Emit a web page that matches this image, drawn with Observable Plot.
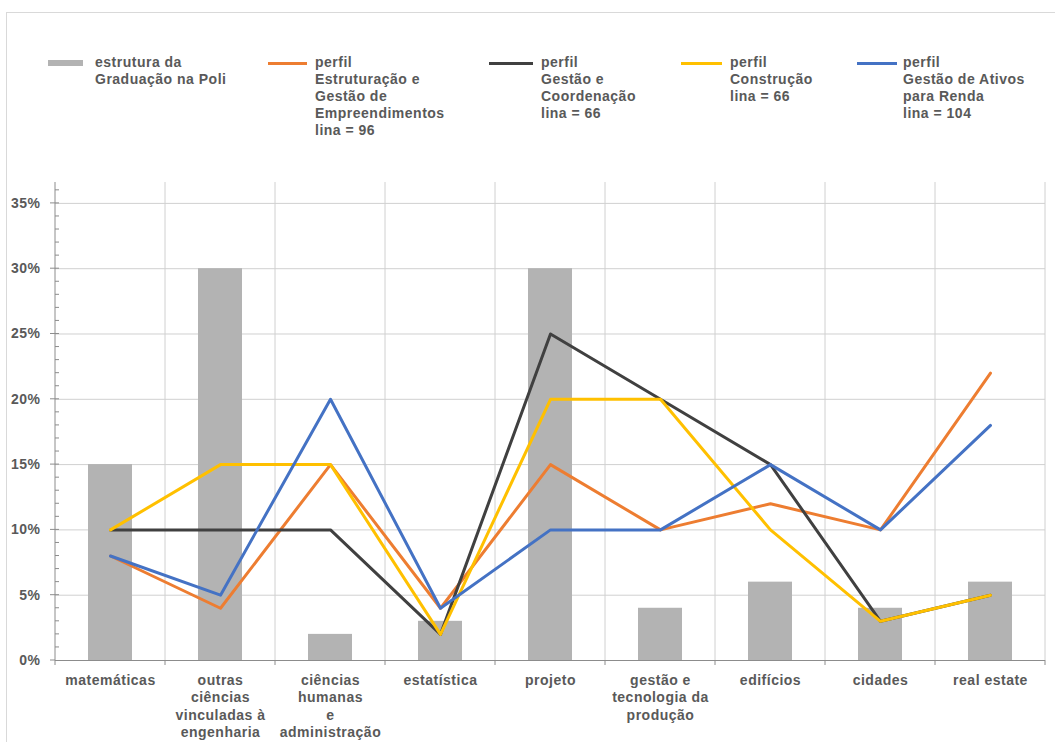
<!DOCTYPE html>
<html><head><meta charset="utf-8">
<script src="https://cdn.jsdelivr.net/npm/d3@7"></script>
<script src="https://cdn.jsdelivr.net/npm/@observablehq/plot@0.6"></script>
<style>
body{margin:0;background:#fff;}
#wrap{position:relative;width:1055px;height:742px;overflow:hidden;font-family:"Liberation Sans",Arial,sans-serif;background:#fff;}
#frame{position:absolute;left:6px;top:12px;width:1200px;height:900px;border:1px solid #d9d9d9;}
.leg{position:absolute;top:54px;font-size:14px;font-weight:bold;letter-spacing:0.5px;color:#595959;line-height:17px;white-space:pre;}
.sw{position:absolute;height:3px;}
#chart{position:absolute;left:0;top:180px;}
</style></head><body>
<div id="wrap"><div id="frame"></div><div id="legend"></div><div id="chart"></div></div>
<script>
// ---- data ----
const categories = ["matemáticas","outras ciências","ciências humanas","estatística","projeto","gestão e tecnologia","edifícios","cidades","real estate"];
const xLabels = ["matemáticas","outras\nciências\nvinculadas à\nengenharia","ciências\nhumanas\ne\nadministração","estatística","projeto","gestão e\ntecnologia da\nprodução","edifícios","cidades","real estate"];
const estruturaGraduacao = [15, 30, 2, 3, 30, 4, 6, 4, 6];
const perfilEstruturacao = [8, 4, 15, 4, 15, 10, 12, 10, 22];
const perfilGestaoCoordenacao = [10, 10, 10, 2, 25, 20, 15, 3, 5];
const perfilConstrucao = [10, 15, 15, 2, 20, 20, 10, 3, 5];
const perfilAtivos = [8, 5, 20, 4, 10, 10, 15, 10, 18];
const yTicks = [0, 5, 10, 15, 20, 25, 30, 35];
const yMax = 36.6;
const legendLabels = [
  "estrutura da\nGraduação na Poli",
  "perfil\nEstruturação e\nGestão de\nEmpreendimentos\nlina = 96",
  "perfil\nGestão e\nCoordenação\nlina = 66",
  "perfil\nConstrução\nlina = 66",
  "perfil\nGestão de Ativos\npara Renda\nlina = 104"
];

// ---- legend (HTML) ----
const legendStyle = [
  {sw: 48, w: 35, h: 6, color: "#b3b3b3", tx: 95},
  {sw: 268, w: 39, h: 3, color: "#ED7D31", tx: 315},
  {sw: 489, w: 44, h: 3, color: "#404040", tx: 541},
  {sw: 681, w: 41, h: 3, color: "#FFC000", tx: 730},
  {sw: 857, w: 40, h: 3, color: "#4472C4", tx: 903}
];
const legend = d3.select("#legend");
legendLabels.forEach((t, i) => {
  const s = legendStyle[i];
  legend.append("div").attr("class", "sw")
    .style("left", s.sw + "px").style("top", (63 - s.h / 2) + "px")
    .style("width", s.w + "px").style("height", s.h + "px").style("background", s.color);
  legend.append("div").attr("class", "leg").style("left", s.tx + "px").text(t);
});

// ---- decorations drawn with the plot's scales ----
function decorations(index, scales, values, dimensions) {
  const x = scales.x, y = scales.y;
  const c0 = x(categories[0]), c1 = x(categories[1]);
  const step = c1 - c0;
  const left = Math.abs(c0 - dimensions.marginLeft) < 1 ? c0 : c0 - step / 2;
  const bounds = d3.range(categories.length + 1).map(i => left + i * step);
  const y0 = y(0), yT = y(yMax);
  const g = d3.create("svg:g");
  // vertical gridlines
  g.selectAll(".vg").data(bounds.slice(1)).join("line")
    .attr("x1", d => d).attr("x2", d => d).attr("y1", yT).attr("y2", y0)
    .attr("stroke", "#d0d0d0").attr("stroke-width", 1);
  // x ticks
  g.selectAll(".xt").data(bounds).join("line")
    .attr("x1", d => d).attr("x2", d => d).attr("y1", y0).attr("y2", y0 + 5)
    .attr("stroke", "#8c8c8c");
  // y axis line
  g.append("line").attr("x1", left).attr("x2", left).attr("y1", yT).attr("y2", y0)
    .attr("stroke", "#8c8c8c");
  // major ticks (outside)
  g.selectAll(".yt").data(yTicks).join("line")
    .attr("x1", left - 5).attr("x2", left).attr("y1", d => y(d)).attr("y2", d => y(d))
    .attr("stroke", "#8c8c8c");
  // minor ticks (inside)
  g.selectAll(".ym").data(d3.range(1, Math.floor(yMax) + 1)).join("line")
    .attr("x1", left).attr("x2", left + 4).attr("y1", d => y(d)).attr("y2", d => y(d))
    .attr("stroke", "#8c8c8c");
  return g.node();
}

const series = [
  {values: perfilEstruturacao, color: "#ED7D31"},
  {values: perfilGestaoCoordenacao, color: "#404040"},
  {values: perfilConstrucao, color: "#FFC000"},
  {values: perfilAtivos, color: "#4472C4"}
];

const chart = Plot.plot({
  width: 1055,
  height: 562,
  marginLeft: 55,
  marginRight: 10,
  marginTop: 2,
  marginBottom: 82,
  style: {fontFamily: "'Liberation Sans', Arial, sans-serif", fontSize: "14px", fontWeight: "bold", color: "#595959", background: "transparent", letterSpacing: "0.5px"},
  x: {type: "band", domain: categories, padding: 0, axis: null},
  y: {domain: [0, yMax], ticks: yTicks, tickFormat: d => d + "%", tickSize: 0, tickPadding: 15, label: null},
  marks: [
    Plot.ruleY(yTicks.slice(1), {stroke: "#d0d0d0", strokeWidth: 1}),
    decorations,
    Plot.barY(categories, {x: d => d, y: (d, i) => estruturaGraduacao[i], fill: "#b3b3b3", insetLeft: 33, insetRight: 33}),
    Plot.ruleY([0], {stroke: "#8c8c8c"}),
    ...series.map(s => Plot.line(categories, {x: d => d, y: (d, i) => s.values[i], stroke: s.color, strokeWidth: 3})),
    Plot.text(categories, {x: d => d, y: d => 0, text: (d, i) => xLabels[i], lineAnchor: "top", dy: 12, lineHeight: 1.25, fontSize: 14, fontWeight: "bold", fill: "#595959"})
  ]
});
document.getElementById("chart").appendChild(chart);
</script>
</body></html>
